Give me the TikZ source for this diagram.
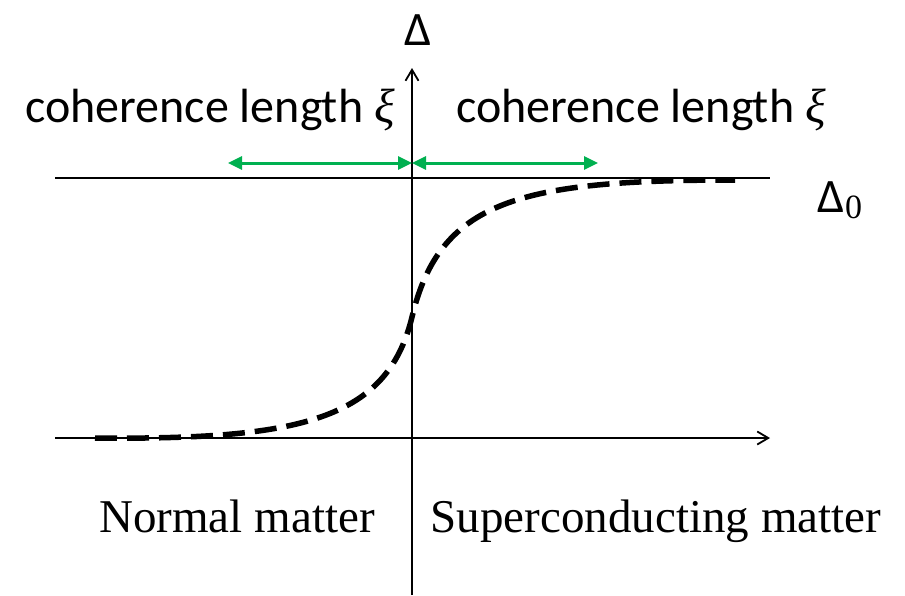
\documentclass[tikz,border=0pt]{standalone}
\usepackage{fontspec}
\setmainfont{Liberation Serif}
\newfontfamily\calib{Carlito}
\newfontfamily\xifont{Liberation Serif}
\usetikzlibrary{arrows.meta}
\definecolor{pgreen}{HTML}{00B050}
\newcommand{\myxi}{{\xifont\itshape ξ}}
\begin{document}
\begin{tikzpicture}[x=1pt,y=-1pt,
  axisline/.style={line width=1.8pt,black},
  refline/.style={line width=1.8pt,black},
  xiarrow/.style={line width=3pt,pgreen,{Triangle[length=14pt,width=13pt]}-{Triangle[length=14pt,width=13pt]}},
  profile/.style={line width=5.5pt,dash pattern=on 22pt off 10pt},
  sanslabel/.style={font=\calib\fontsize{48}{56}\selectfont,inner sep=0pt},
  seriflabel/.style={font=\fontsize{47}{56}\selectfont,inner sep=0pt,anchor=base}]
\useasboundingbox (0,0) rectangle (905,595);
\coordinate (vb) at (412,595);
\coordinate (vt) at (412,68);
\coordinate (hl) at (55,438);
\coordinate (hr) at (770,438);
\coordinate (tl) at (55,178);
\coordinate (tr) at (770,178);
\coordinate (xl) at (228,163);
\coordinate (xm) at (412,163);
\coordinate (xr) at (598,163);
\coordinate (ps) at (95,438);
\coordinate (pm) at (412,317);
\coordinate (pe) at (735,180);
\draw[axisline,-{Straight Barb[length=11pt,width=13pt]}] (vb) -- (vt);
\draw[axisline,-{Straight Barb[length=11pt,width=13pt]}] (hl) -- (hr);
\draw[refline] (tl) -- (tr);
\draw[xiarrow] (xl) -- (xm);
\draw[xiarrow] (xm) -- (xr);
\draw[profile] (ps) .. controls (300,440) and (387,420) .. (pm) .. controls (440,200) and (520,180) .. (pe);
\node[sanslabel] (delta) at (418,30) {Δ};
\node[sanslabel] (d0) at (840,200) {Δ\raisebox{-0.25ex}{\xifont\fontsize{34}{40}\selectfont 0}};
\node[sanslabel] (cl) at (210,110) {coherence length \myxi};
\node[sanslabel] (cr) at (641,110) {coherence length \myxi};
\node[seriflabel] (nm) at (237,532) {Normal matter};
\node[seriflabel] (sm) at (656,532) {Superconducting matter};
\end{tikzpicture}
\end{document}
